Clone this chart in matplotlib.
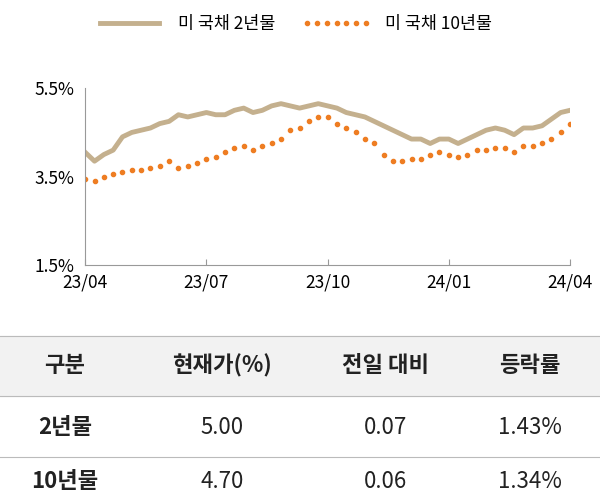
import numpy as np
import matplotlib.pyplot as plt
from matplotlib.patches import Rectangle

plt.rcParams['font.family'] = ['Noto Sans CJK KR', 'Noto Sans CJK JP', 'Noto Sans CJK SC', 'DejaVu Sans']

# weekly yields, 23/04 .. 24/04
us2y = [4.05, 3.85, 4.0, 4.1, 4.4, 4.5, 4.55, 4.6, 4.7, 4.75, 4.9, 4.85, 4.9, 4.95, 4.9, 4.9,
        5.0, 5.05, 4.95, 5.0, 5.1, 5.15, 5.1, 5.05, 5.1, 5.15, 5.1, 5.05, 4.95, 4.9, 4.85, 4.75,
        4.65, 4.55, 4.45, 4.35, 4.35, 4.25, 4.35, 4.35, 4.25, 4.35, 4.45, 4.55, 4.6, 4.55, 4.45,
        4.6, 4.6, 4.65, 4.8, 4.95, 5.0]
us10y = [3.45, 3.4, 3.5, 3.55, 3.6, 3.65, 3.65, 3.7, 3.75, 3.85, 3.7, 3.75, 3.8, 3.9, 3.95, 4.05,
         4.15, 4.2, 4.1, 4.2, 4.25, 4.35, 4.55, 4.6, 4.75, 4.85, 4.85, 4.7, 4.6, 4.5, 4.35, 4.25,
         4.0, 3.85, 3.85, 3.9, 3.9, 4.0, 4.05, 4.0, 3.95, 4.0, 4.1, 4.1, 4.15, 4.15, 4.05, 4.2,
         4.2, 4.25, 4.35, 4.5, 4.7]
xticklabels = ['23/04', '23/07', '23/10', '24/01', '24/04']

header = ['구분', '현재가(%)', '전일 대비', '등락률']
rows = [['2년물', '5.00', '0.07', '1.43%'],
        ['10년물', '4.70', '0.06', '1.34%']]

fig = plt.figure(figsize=(6, 5.04), dpi=100)
ax = fig.add_axes([0.142, 0.474, 0.808, 0.351])
x = np.arange(len(us2y))
ax.plot(x, us2y, color='#c4b08e', lw=3.5, label='미 국채 2년물')
ax.plot(x, us10y, color='#ee7d22', ls='none', marker='o', ms=3, label='미 국채 10년물')
ax.set_ylim(1.5, 5.5)
ax.set_yticks([1.5, 3.5, 5.5])
ax.set_yticklabels(['1.5%', '3.5%', '5.5%'])
ax.set_xlim(0, 52)
ax.set_xticks([0, 13, 26, 39, 52])
ax.set_xticklabels(xticklabels)
ax.tick_params(labelsize=12.5, length=4, color='#999999', direction='in', pad=6)
ax.tick_params(axis='y', length=0, pad=8)
for s in ['top', 'right']:
    ax.spines[s].set_visible(False)
for s in ['left', 'bottom']:
    ax.spines[s].set_color('#999999')
ax.legend(loc='upper center', bbox_to_anchor=(0.43, 1.5), ncol=2, frameon=False,
          fontsize=12.5, handlelength=4, columnspacing=1.5, numpoints=7)

# table
def fy(py):
    return 1 - py / 504

fig.patches.append(Rectangle((0, fy(396)), 1, fy(336) - fy(396), transform=fig.transFigure,
                             color='#f2f2f2', zorder=0))
for py in [336, 396, 457]:
    fig.add_artist(plt.Line2D([0, 1], [fy(py), fy(py)], color='#bbbbbb', lw=0.8))
cols = [65, 222, 385, 530]
for c, t in zip(cols, header):
    fig.text(c / 600, fy(366), t, ha='center', va='center', fontsize=16, fontweight='bold',
             color='#222222')
for ry, row in zip([428, 482], rows):
    for i, (c, t) in enumerate(zip(cols, row)):
        fig.text(c / 600, fy(ry), t, ha='center', va='center', fontsize=16,
                 fontweight='bold' if i == 0 else 'normal', color='#222222')

fig.savefig('out.png')
